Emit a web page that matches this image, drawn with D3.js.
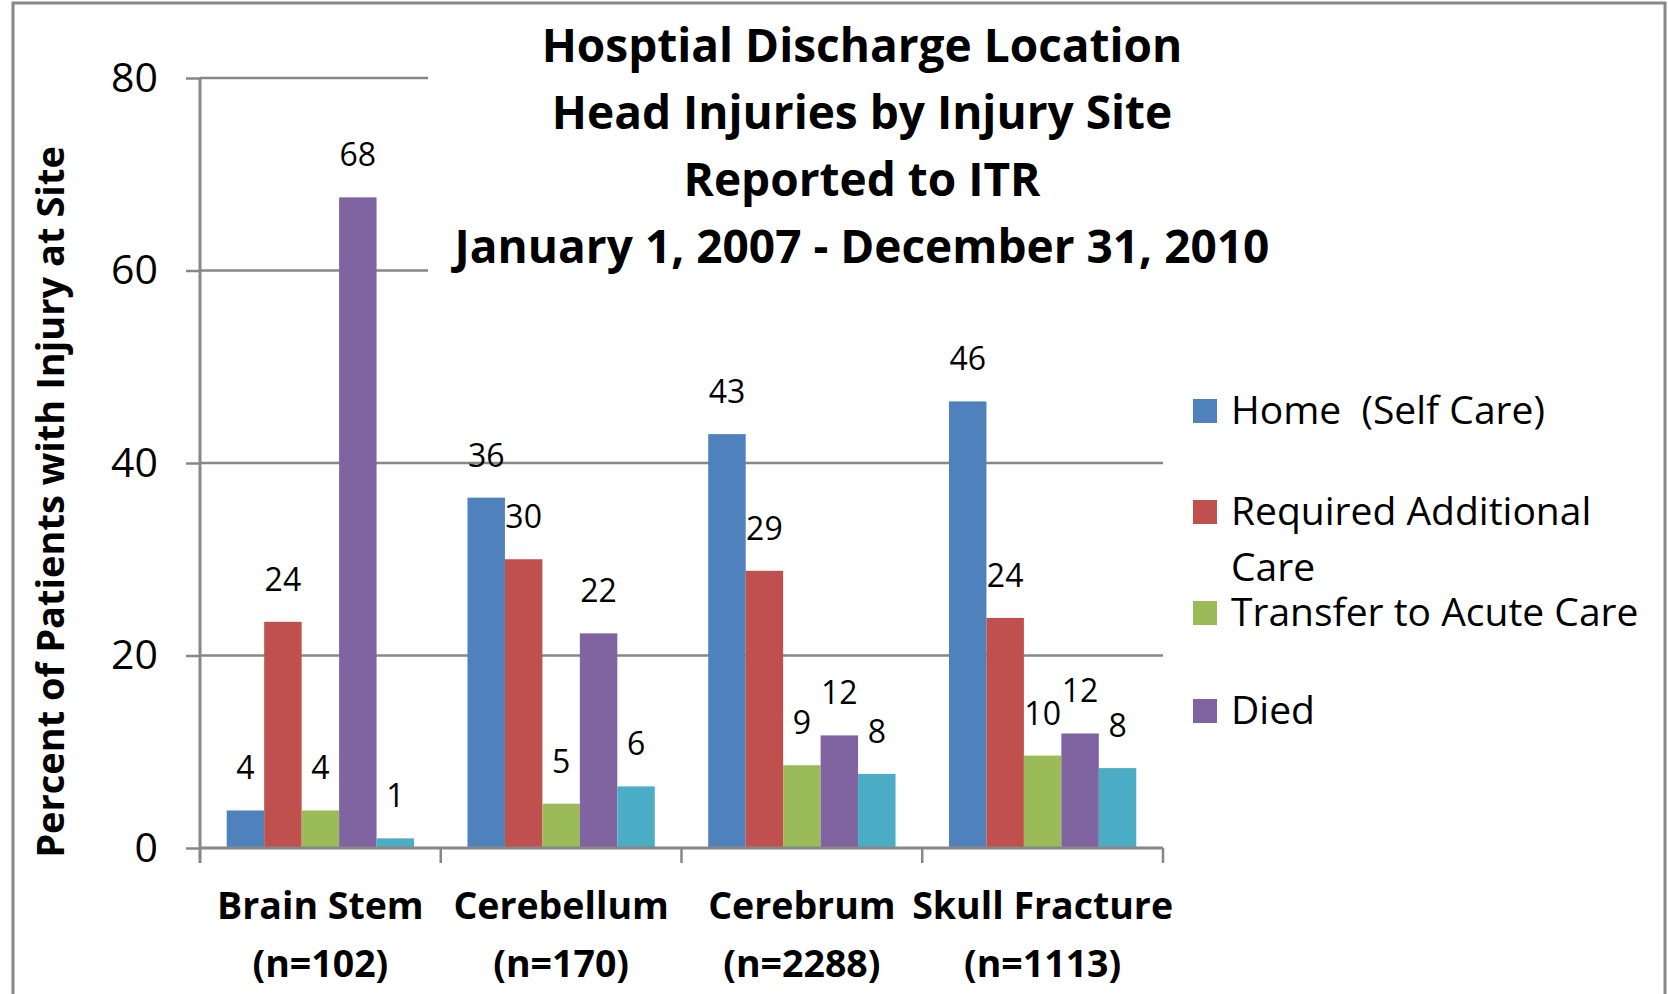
<!DOCTYPE html>
<html>
<head>
<meta charset="utf-8">
<script src="https://cdn.jsdelivr.net/npm/d3@7"></script>
<style>
  body { margin: 0; background: #fff; }
  svg { display: block; font-family: 'Open Sans', sans-serif; }
</style>
</head>
<body>
<svg id="chart" width="1668" height="994"></svg>
<script>
const categories = ['Brain Stem', 'Cerebellum', 'Cerebrum', 'Skull Fracture']
const counts = ['(n=102)', '(n=170)', '(n=2288)', '(n=1113)']
const seriesNames = ['Home  (Self Care)', 'Required Additional Care', 'Transfer to Acute Care', 'Died', 'Other']
const home = [3.9, 36.4, 43.0, 46.4]
const additional = [23.5, 30.0, 28.8, 23.9]
const transfer = [3.9, 4.6, 8.6, 9.6]
const died = [67.6, 22.3, 11.7, 11.9]
const other = [1.0, 6.4, 7.7, 8.3]
const yTicks = [0, 20, 40, 60, 80]
const titleLines = ['Hosptial Discharge Location', 'Head Injuries by Injury Site', 'Reported to ITR', 'January 1, 2007 - December 31, 2010']
const colours = ['#4f81bd', '#c0504d', '#9bbb59', '#8064a2', '#4bacc6']

let seriesValues = [home, additional, transfer, died, other]
let data = categories.map((c, i) => ({
  category: c,
  values: seriesNames.map((s, j) => ({ series: s, value: seriesValues[j][i] }))
}))

let margin = { left: 200, right: 1163, top: 78, bottom: 848 }
let grey = '#878787'

let svg = d3.select('#chart')

// outer frame
svg.append('rect')
    .attr('x', 13).attr('y', 3)
    .attr('width', 1652).attr('height', 1100)
    .attr('fill', 'none')
    .attr('stroke', grey)
    .attr('stroke-width', 3)

let x0 = d3.scaleBand()
    .domain(categories)
    .range([margin.left, margin.right])

let gap = x0.bandwidth() * 0.111
let x1 = d3.scaleBand()
    .domain(seriesNames)
    .range([gap, x0.bandwidth() - gap])

let y = d3.scaleLinear()
    .domain([0, 80])
    .range([margin.bottom, margin.top])

// gridlines
svg.append('g')
    .selectAll('line')
    .data(yTicks.slice(1))
  .enter().append('line')
    .attr('x1', margin.left).attr('x2', margin.right)
    .attr('y1', d => y(d)).attr('y2', d => y(d))
    .attr('stroke', grey)
    .attr('stroke-width', 2.5)

// y axis
let yAxis = svg.append('g')
    .attr('transform', 'translate(' + margin.left + ',0)')
    .call(d3.axisLeft(y).tickValues(yTicks).tickSize(14).tickPadding(28))

yAxis.selectAll('line').attr('stroke', grey).attr('stroke-width', 2.5)
yAxis.select('path').attr('stroke', grey).attr('stroke-width', 3)
  .attr('d', 'M0,' + margin.top + 'V' + (margin.bottom + 15))
yAxis.selectAll('text')
    .attr('fill', '#000')
    .style('font-size', '41px')
    .style('font-family', 'Open Sans, sans-serif')

// white box behind title
svg.append('rect')
    .attr('x', 428).attr('y', 10)
    .attr('width', 860).attr('height', 280)
    .attr('fill', '#fff')

// bars
let groups = svg.append('g')
    .selectAll('g')
    .data(data)
  .enter().append('g')
    .attr('transform', d => 'translate(' + x0(d.category) + ',0)')

groups.selectAll('rect')
    .data(d => d.values)
  .enter().append('rect')
    .attr('x', d => x1(d.series))
    .attr('width', x1.bandwidth())
    .attr('y', d => y(d.value))
    .attr('height', d => y(0) - y(d.value))
    .attr('fill', (d, i) => colours[i])

groups.selectAll('text')
    .data(d => d.values)
  .enter().append('text')
    .attr('x', d => x1(d.series) + x1.bandwidth() / 2)
    .attr('y', d => y(d.value) - 31)
    .attr('text-anchor', 'middle')
    .style('font-size', '32px')
    .text(d => d3.format('.0f')(d.value))

// x axis
let xAxis = svg.append('g')
    .attr('transform', 'translate(0,' + margin.bottom + ')')

xAxis.append('line')
    .attr('x1', margin.left).attr('x2', margin.right)
    .attr('stroke', grey).attr('stroke-width', 3)

xAxis.selectAll('.tick')
    .data(categories.slice(1).map(c => x0(c)).concat([margin.right]))
  .enter().append('line')
    .attr('x1', d => d).attr('x2', d => d)
    .attr('y1', 0).attr('y2', 15)
    .attr('stroke', grey).attr('stroke-width', 2.5)

let catLabels = xAxis.selectAll('.cat')
    .data(categories)
  .enter().append('text')
    .attr('x', d => x0(d) + x0.bandwidth() / 2)
    .attr('text-anchor', 'middle')
    .style('font-size', '37.5px')
    .style('font-weight', 'bold')

catLabels.append('tspan')
    .attr('x', d => x0(d) + x0.bandwidth() / 2)
    .attr('y', 71)
    .text(d => d)

catLabels.append('tspan')
    .attr('x', d => x0(d) + x0.bandwidth() / 2)
    .attr('y', 129)
    .text((d, i) => counts[i])

// y axis title
svg.append('text')
    .attr('transform', 'translate(64,' + ((margin.top + margin.bottom) / 2 + 39) + ') rotate(-90)')
    .attr('text-anchor', 'middle')
    .style('font-size', '38px')
    .style('font-weight', 'bold')
    .text('Percent of Patients with Injury at Site')

// title
svg.append('g')
    .selectAll('text')
    .data(titleLines)
  .enter().append('text')
    .attr('x', 862)
    .attr('y', (d, i) => 62 + i * 67)
    .attr('text-anchor', 'middle')
    .style('font-size', '46px')
    .style('font-weight', 'bold')
    .text(d => d)

// legend (only the first four entries fit)
let legendRows = [
  { lines: ['Home  (Self Care)'], y: 411 },
  { lines: ['Required Additional', 'Care'], y: 512 },
  { lines: ['Transfer to Acute Care'], y: 613 },
  { lines: ['Died'], y: 711 }
]

let legend = svg.append('g')
    .selectAll('g')
    .data(legendRows)
  .enter().append('g')

legend.append('rect')
    .attr('x', 1193)
    .attr('y', d => d.y - 12)
    .attr('width', 24).attr('height', 24)
    .attr('fill', (d, i) => colours[i])

legend.each(function(d) {
  let t = d3.select(this).append('text')
      .style('font-size', '39px')
      .style('white-space', 'pre')
  d.lines.forEach((l, k) => {
    t.append('tspan')
        .attr('x', 1231)
        .attr('y', d.y + 13 + k * 56)
        .text(l)
  })
})
</script>
</body>
</html>
